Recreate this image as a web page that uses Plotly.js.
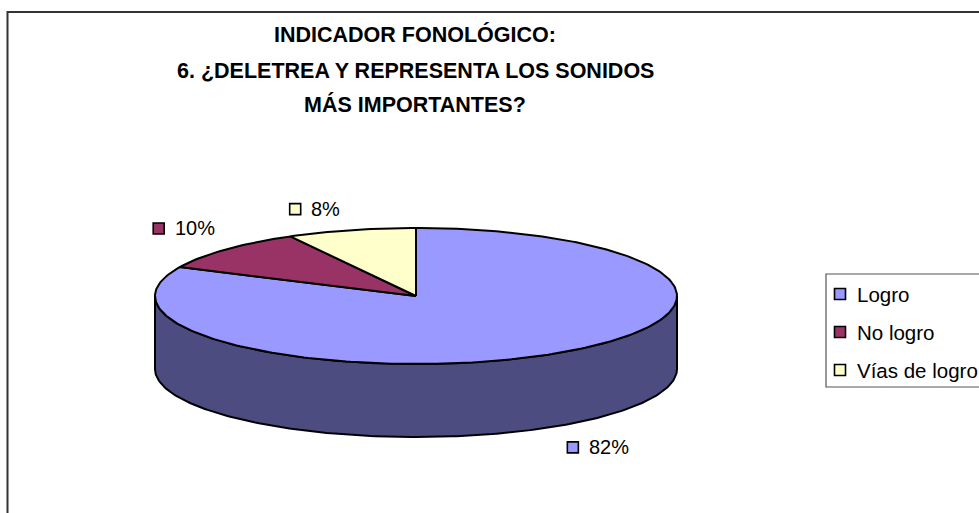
<!DOCTYPE html>
<html>
<head>
<meta charset="utf-8">
<script src="https://cdn.plot.ly/plotly-3.0.1.min.js"></script>
<style>html,body{margin:0;padding:0;background:#fff;}#chart{width:979px;height:513px;}</style>
</head>
<body>
<div id="chart"></div>
<script>
// ---- data ----
const categories = ['Logro', 'No logro', 'Vías de logro'];
const values = [82, 10, 8];
const valueLabels = ['82%', '10%', '8%'];
const topColors = ['#9999FF', '#993366', '#FFFFCC'];
const sideColors = ['#4C4C80', '#4D1A33', '#80806A'];
const titleLines = ['INDICADOR FONOLÓGICO:', '6. ¿DELETREA Y REPRESENTA LOS SONIDOS', 'MÁS IMPORTANTES?'];

// ---- geometry / style ----
const W = 979, H = 513;
const G = {cx: 416, cy: 296, rx: 261, ry: 68, depth: 73};
const FONT = 'Liberation Sans, Arial, sans-serif';
const LBL_SIZE = 20;

function pt(deg, dy) {
  const t = deg * Math.PI / 180;
  return [G.cx + G.rx * Math.sin(t), G.cy - G.ry * Math.cos(t) + (dy || 0)];
}
function arc(a, b, dy) {
  const pts = [];
  const n = Math.max(2, Math.ceil(Math.abs(b - a)));
  for (let i = 0; i <= n; i++) pts.push(pt(a + (b - a) * i / n, dy));
  return pts;
}
const canvas = document.createElement('canvas');
const ctx = canvas.getContext('2d');
function textW(s, size) { ctx.font = size + 'px "Liberation Sans", Arial'; return ctx.measureText(s).width; }

const total = values.reduce((a, b) => a + b, 0);
const slices = [];
let acc = 0;
values.forEach((v, i) => {
  const s = acc / total * 360;
  acc += v;
  const e = acc / total * 360;
  slices.push({s, e, i});
});

const traces = [];
// side faces (front half only: 90..270 deg)
slices.forEach(sl => {
  const a = Math.max(sl.s, 90), b = Math.min(sl.e, 270);
  if (b > a) {
    const top = arc(a, b, 0);
    const bot = arc(b, a, G.depth);
    const poly = top.concat(bot); poly.push(top[0]);
    traces.push({type: 'scatter', mode: 'lines', x: poly.map(p => p[0]), y: poly.map(p => p[1]),
      fill: 'toself', fillcolor: sideColors[sl.i], line: {color: '#000', width: 2},
      hoverinfo: 'skip', showlegend: false});
  }
});
// top faces
slices.forEach(sl => {
  const poly = [[G.cx, G.cy]].concat(arc(sl.s, sl.e, 0)); poly.push([G.cx, G.cy]);
  traces.push({type: 'scatter', mode: 'lines', x: poly.map(p => p[0]), y: poly.map(p => p[1]),
    fill: 'toself', fillcolor: topColors[sl.i], line: {color: '#000', width: 2},
    name: categories[sl.i], hoverinfo: 'name', showlegend: false});
});

const annotations = [];
const shapes = [];
// data labels (placed diagonally outside the slice edge at its mid-angle)
const lblSqX = [], lblSqY = [], lblSqC = [];
slices.forEach(sl => {
  const mid = (sl.s + sl.e) / 2;
  const c = Math.cos(mid * Math.PI / 180);
  const front = c < 0;
  const dy = front ? G.depth : 0;
  const P = pt(mid, dy);
  const ux = Math.sign(P[0] - G.cx), uy = Math.sign(P[1] - (G.cy + dy));
  const bw = 12 + 10 + textW(valueLabels[sl.i], LBL_SIZE);
  const hw = bw / 2, hh = 8;
  const cxL = P[0] + ux * (hw + 11);
  const cyL = P[1] + uy * (hh + 13);
  lblSqX.push(cxL - hw + 6); lblSqY.push(cyL); lblSqC.push(topColors[sl.i]);
  annotations.push({x: cxL - hw + 20, y: cyL, xref: 'x', yref: 'y', xanchor: 'left', yanchor: 'middle',
    text: valueLabels[sl.i], showarrow: false, font: {family: FONT, size: LBL_SIZE, color: '#000'}});
});
traces.push({type: 'scatter', mode: 'markers', x: lblSqX, y: lblSqY, hoverinfo: 'skip', showlegend: false,
  marker: {symbol: 'square', size: 11, color: lblSqC, line: {color: '#000', width: 1.6}}});

// legend (manual, clipped at right edge like the reference)
const LEG = {x0: 826, y0: 274, y1: 387, row0: 294, rowStep: 38, sqX: 840, txtX: 855};
shapes.push({type: 'rect', xref: 'x', yref: 'y', x0: LEG.x0, x1: W + 40, y0: LEG.y0, y1: LEG.y1,
  line: {color: '#555', width: 1.2}, fillcolor: 'rgba(0,0,0,0)'});
const legX = [], legY = [];
categories.forEach((c, i) => {
  legX.push(LEG.sqX); legY.push(LEG.row0 + i * LEG.rowStep);
  annotations.push({x: LEG.txtX, y: LEG.row0 + i * LEG.rowStep, xref: 'x', yref: 'y', xanchor: 'left', yanchor: 'middle',
    text: c, showarrow: false, font: {family: FONT, size: LBL_SIZE + 0.5, color: '#000'}});
});
traces.push({type: 'scatter', mode: 'markers', x: legX, y: legY, hoverinfo: 'skip', showlegend: false,
  marker: {symbol: 'square', size: 11, color: topColors, line: {color: '#000', width: 1.6}}});

// chart border (right and bottom edges fall outside the picture)
shapes.push({type: 'rect', xref: 'x', yref: 'y', x0: 7.5, x1: W + 40, y0: 12, y1: H + 40,
  line: {color: '#333', width: 2}, fillcolor: 'rgba(0,0,0,0)', layer: 'below'});

// title
const titleY = [34, 71, 104];
titleLines.forEach((t, i) => {
  annotations.push({x: 415, y: titleY[i], xref: 'x', yref: 'y', xanchor: 'center', yanchor: 'middle',
    text: '<b>' + t + '</b>', showarrow: false, font: {family: FONT, size: 21.5, color: '#000'}});
});

const layout = {
  width: W, height: H, autosize: false,
  margin: {l: 0, r: 0, t: 0, b: 0, pad: 0},
  paper_bgcolor: '#fff', plot_bgcolor: '#fff',
  xaxis: {range: [0, W], visible: false, fixedrange: true},
  yaxis: {range: [H, 0], visible: false, fixedrange: true},
  showlegend: false,
  annotations, shapes
};
Plotly.newPlot('chart', traces, layout, {displayModeBar: false, staticPlot: true});
</script>
</body>
</html>
